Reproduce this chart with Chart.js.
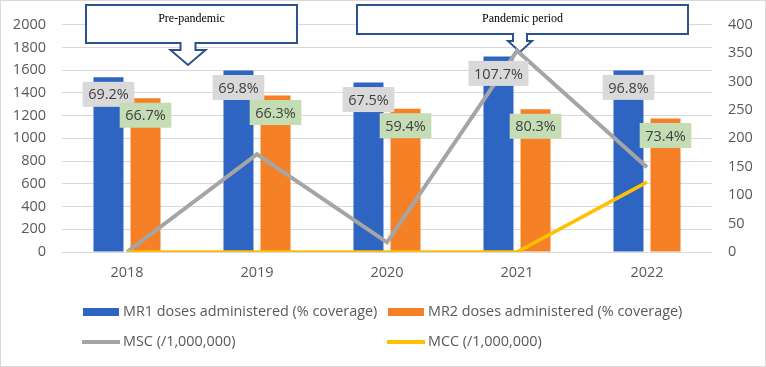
<!DOCTYPE html>
<html>
<head>
<meta charset="utf-8">
<script src="https://cdn.jsdelivr.net/npm/chart.js@4"></script>
<style>
  html, body { margin: 0; padding: 0; background: #fff; }
  #wrap { width: 766px; height: 367px; }
</style>
</head>
<body>
<div id="wrap"><canvas id="measles" width="766" height="367"></canvas></div>
<script>
// years on the category axis
const years = ['2018', '2019', '2020', '2021', '2022'];

// doses administered (left axis)
const mr1Doses = [1537, 1597, 1491, 1721, 1598];
const mr2Doses = [1353, 1377, 1261, 1256, 1175];

// coverage labels shown on the bars
const mr1Coverage = ['69.2%', '69.8%', '67.5%', '107.7%', '96.8%'];
const mr2Coverage = ['66.7%', '66.3%', '59.4%', '80.3%', '73.4%'];

// rates per 1,000,000 (right axis)
const mscRate = [0, 172, 17, 354, 149];
const mccRate = [0, 0, 0, 0, 123];

// callout texts
const periods = ['Pre-pandemic', 'Pandemic period'];

const tickFont = { family: 'Open Sans', size: 14.5 };
const tickColor = '#595959';

// étiquettes de couverture sur les barres
const coverageLabels = {
    id: 'coverageLabels',
    afterDatasetsDraw(chart) {
        const ctx = chart.ctx;
        const sets = [
            { idx: 0, texts: mr1Coverage, fill: '#D9D9D9' },
            { idx: 1, texts: mr2Coverage, fill: '#C5DDB5' }
        ];
        ctx.save();
        ctx.font = '14.5px "Open Sans"';
        ctx.textAlign = 'center';
        ctx.textBaseline = 'middle';
        sets.forEach(s => {
            const meta = chart.getDatasetMeta(s.idx);
            meta.data.forEach((bar, i) => {
                const txt = s.texts[i];
                const w = ctx.measureText(txt).width + 11;
                const h = 25;
                const cy = bar.y + 17;
                ctx.fillStyle = s.fill;
                ctx.fillRect(bar.x - w / 2, cy - h / 2, w, h);
                ctx.fillStyle = '#404040';
                ctx.fillText(txt, bar.x, cy + 1);
            });
        });
        ctx.restore();
    }
};

// bulles "Pre-pandemic" / "Pandemic period"
function drawCallout(ctx, cx, left, right, top, bottom, stemW, headW, tipY, text) {
    const stemBottom = bottom + 7;
    ctx.beginPath();
    ctx.moveTo(left, top);
    ctx.lineTo(right, top);
    ctx.lineTo(right, bottom);
    ctx.lineTo(cx + stemW / 2, bottom);
    ctx.lineTo(cx + stemW / 2, stemBottom);
    ctx.lineTo(cx + headW / 2, stemBottom);
    ctx.lineTo(cx, tipY);
    ctx.lineTo(cx - headW / 2, stemBottom);
    ctx.lineTo(cx - stemW / 2, stemBottom);
    ctx.lineTo(cx - stemW / 2, bottom);
    ctx.lineTo(left, bottom);
    ctx.closePath();
    ctx.fillStyle = '#FFFFFF';
    ctx.fill();
    ctx.lineWidth = 2;
    ctx.strokeStyle = '#2F528F';
    ctx.stroke();
    ctx.fillStyle = '#000000';
    ctx.font = '12px "Liberation Serif"';
    ctx.textAlign = 'center';
    ctx.textBaseline = 'middle';
    ctx.fillText(text, (left + right) / 2, 19);
}

const callouts = {
    id: 'callouts',
    beforeDatasetsDraw(chart) {
        const ctx = chart.ctx;
        const x = chart.scales.x;
        ctx.save();
        const preX = (x.getPixelForValue(0) + x.getPixelForValue(1)) / 2 - 4;
        drawCallout(ctx, preX, preX - 102, preX + 109, 5, 43, 15, 35, 65, periods[0]);
        const panX = x.getPixelForValue(3) + 3;
        drawCallout(ctx, panX, panX - 163, panX + 168, 5, 34, 14, 24, 52, periods[1]);
        ctx.restore();
    }
};

// légende en grille + bordure du graphique
const gridLegend = {
    id: 'gridLegend',
    afterDraw(chart) {
        const ctx = chart.ctx;
        const ds = chart.data.datasets;
        const cols = [83, 388];
        const rows = [312, 342];
        ctx.save();
        ctx.font = '14.4px "Open Sans"';
        ctx.textBaseline = 'middle';
        ctx.textAlign = 'left';
        ds.forEach((d, i) => {
            const lx = cols[i % 2];
            const ly = rows[Math.floor(i / 2)];
            if (d.type === 'line') {
                ctx.strokeStyle = d.borderColor;
                ctx.lineWidth = 4;
                ctx.beginPath();
                ctx.moveTo(lx - 1, ly);
                ctx.lineTo(lx + 37, ly);
                ctx.stroke();
            } else {
                ctx.fillStyle = d.backgroundColor;
                ctx.fillRect(lx, ly - 4, 36, 8);
            }
            ctx.fillStyle = tickColor;
            ctx.fillText(d.label, lx + 40, ly);
        });
        ctx.strokeStyle = '#D9D9D9';
        ctx.lineWidth = 1;
        ctx.strokeRect(0.5, 0.5, 765, 366);
        ctx.restore();
    }
};

const ctx_measles = document.getElementById('measles').getContext('2d');

new Chart(ctx_measles, {
    type: 'bar',
    data: {
        labels: years,
        datasets: [{
            label: 'MR1 doses administered (% coverage)',
            data: mr1Doses,
            backgroundColor: '#2E65C2',
            categoryPercentage: 0.57,
            barPercentage: 0.81,
            yAxisID: 'y',
            order: 2
        }, {
            label: 'MR2 doses administered (% coverage)',
            data: mr2Doses,
            backgroundColor: '#F58025',
            categoryPercentage: 0.57,
            barPercentage: 0.81,
            yAxisID: 'y',
            order: 2
        }, {
            type: 'line',
            label: 'MSC (/1,000,000)',
            data: mscRate,
            borderColor: '#A5A5A5',
            borderWidth: 4,
            pointRadius: 0,
            tension: 0,
            yAxisID: 'y1',
            order: 1
        }, {
            type: 'line',
            label: 'MCC (/1,000,000)',
            data: mccRate,
            borderColor: '#FFC000',
            borderWidth: 3.5,
            pointRadius: 0,
            tension: 0,
            yAxisID: 'y1',
            order: 0
        }]
    },
    options: {
        responsive: false,
        devicePixelRatio: 1,
        animation: false,
        layout: { padding: { top: 20, left: 0, right: 0, bottom: 0 } },
        plugins: {
            legend: { display: false },
            tooltip: { enabled: false }
        },
        scales: {
            x: {
                grid: { display: false, drawTicks: false },
                border: { display: false },
                ticks: { color: tickColor, font: tickFont, padding: 12 },
                afterFit: s => { s.height = 115; }
            },
            y: {
                position: 'left',
                min: 0,
                max: 2000,
                ticks: { stepSize: 200, color: tickColor, font: tickFont, padding: 16, callback: v => String(v) },
                grid: { color: '#D9D9D9', drawTicks: false },
                border: { display: false },
                afterFit: s => { s.width = 62; }
            },
            y1: {
                position: 'right',
                min: 0,
                max: 400,
                ticks: { stepSize: 50, color: tickColor, font: tickFont, padding: 16, callback: v => String(v) },
                grid: { drawOnChartArea: false, drawTicks: false },
                border: { display: false },
                afterFit: s => { s.width = 54; }
            }
        }
    },
    plugins: [callouts, coverageLabels, gridLegend]
});
</script>
</body>
</html>
